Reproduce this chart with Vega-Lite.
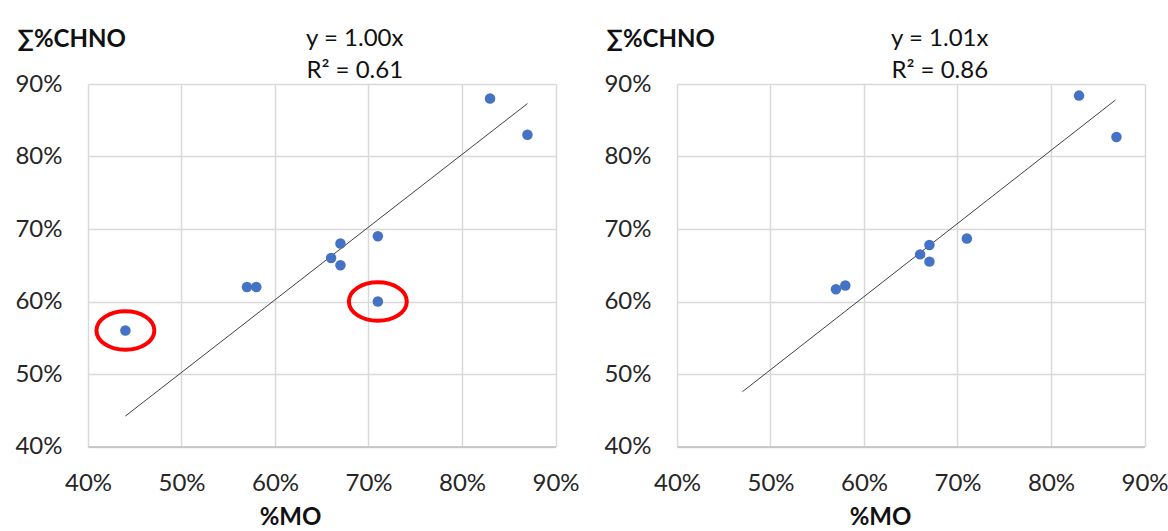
{
  "$schema": "https://vega.github.io/schema/vega-lite/v6.json",
  "background": "white",
  "padding": {"left": 14, "top": 27, "right": 0, "bottom": 0},
  "spacing": 121,
  "bounds": "flush",
  "config": {
    "font": "Lato",
    "view": {"stroke": null},
    "axis": {
      "labelFont": "Lato",
      "labelFontSize": 24,
      "labelColor": "#262626",
      "labelFlush": false,
      "grid": true,
      "gridColor": "#d9d9d9",
      "gridWidth": 1.5,
      "ticks": false,
      "domain": false,
      "titleFont": "Lato",
      "titleFontSize": 24,
      "titleFontWeight": "bold",
      "titleColor": "#111111"
    }
  },
  "datasets": {
    "left": [
      {"mo": 0.44, "chno": 0.56, "outlier": true},
      {"mo": 0.57, "chno": 0.62, "outlier": false},
      {"mo": 0.58, "chno": 0.62, "outlier": false},
      {"mo": 0.66, "chno": 0.66, "outlier": false},
      {"mo": 0.67, "chno": 0.68, "outlier": false},
      {"mo": 0.67, "chno": 0.65, "outlier": false},
      {"mo": 0.71, "chno": 0.69, "outlier": false},
      {"mo": 0.71, "chno": 0.60, "outlier": true},
      {"mo": 0.83, "chno": 0.88, "outlier": false},
      {"mo": 0.87, "chno": 0.83, "outlier": false}
    ],
    "right": [
      {"mo": 0.57, "chno": 0.617},
      {"mo": 0.58, "chno": 0.622},
      {"mo": 0.66, "chno": 0.665},
      {"mo": 0.67, "chno": 0.678},
      {"mo": 0.67, "chno": 0.655},
      {"mo": 0.71, "chno": 0.687},
      {"mo": 0.83, "chno": 0.884},
      {"mo": 0.87, "chno": 0.827}
    ],
    "trendLeft": [
      {"mo": 0.44, "chno": 0.442},
      {"mo": 0.87, "chno": 0.873}
    ],
    "trendRight": [
      {"mo": 0.47, "chno": 0.4756},
      {"mo": 0.869, "chno": 0.878}
    ]
  },
  "hconcat": [
    {
      "width": 467.5,
      "height": 362.5,
      "title": {
        "text": "y = 1.00x",
        "subtitle": "R² = 0.61",
        "anchor": "middle",
        "dx": 33,
        "font": "Lato",
        "fontSize": 24,
        "fontWeight": "normal",
        "color": "#111111",
        "subtitleFont": "Lato",
        "subtitleFontSize": 24,
        "subtitleColor": "#111111",
        "offset": -56,
        "subtitlePadding": 8
      },
      "encoding": {
        "x": {
          "field": "mo", "type": "quantitative",
          "scale": {"domain": [0.4, 0.9], "nice": false, "zero": false},
          "axis": {
            "values": [0.4, 0.5, 0.6, 0.7, 0.8, 0.9], "format": ".0%",
            "title": "%MO", "labelPadding": 25,
            "titleX": 202, "titleY": 78, "titleAlign": "center", "titleBaseline": "alphabetic",
            "domain": true, "domainColor": "#bfbfbf", "domainWidth": 1.5
          }
        },
        "y": {
          "field": "chno", "type": "quantitative",
          "scale": {"domain": [0.4, 0.9], "nice": false, "zero": false},
          "axis": {
            "values": [0.4, 0.5, 0.6, 0.7, 0.8, 0.9], "format": ".0%",
            "title": "∑%CHNO", "titleAngle": 0, "titleAlign": "left", "titleBaseline": "alphabetic",
            "titleX": -71, "titleY": -38, "labelPadding": 26
          }
        }
      },
      "layer": [
        {"data": {"name": "trendLeft"}, "mark": {"type": "line", "color": "#404040", "strokeWidth": 1}},
        {"data": {"name": "left"}, "mark": {"type": "point", "filled": true, "color": "#4472C4", "size": 110, "opacity": 1}},
        {
          "data": {"name": "left"},
          "transform": [{"filter": "datum.outlier"}],
          "mark": {
            "type": "point",
            "shape": "M1.5,0 C1.5,0.5523 0.8284,1 0,1 C-0.8284,1 -1.5,0.5523 -1.5,0 C-1.5,-0.5523 -0.8284,-1 0,-1 C0.8284,-1 1.5,-0.5523 1.5,0 Z",
            "filled": false, "stroke": "#ff0000", "strokeWidth": 4, "size": 1490, "opacity": 1
          }
        }
      ]
    },
    {
      "width": 467.5,
      "height": 362.5,
      "title": {
        "text": "y = 1.01x",
        "subtitle": "R² = 0.86",
        "anchor": "middle",
        "dx": 29,
        "font": "Lato",
        "fontSize": 24,
        "fontWeight": "normal",
        "color": "#111111",
        "subtitleFont": "Lato",
        "subtitleFontSize": 24,
        "subtitleColor": "#111111",
        "offset": -56,
        "subtitlePadding": 8
      },
      "encoding": {
        "x": {
          "field": "mo", "type": "quantitative",
          "scale": {"domain": [0.4, 0.9], "nice": false, "zero": false},
          "axis": {
            "values": [0.4, 0.5, 0.6, 0.7, 0.8, 0.9], "format": ".0%",
            "title": "%MO", "labelPadding": 25,
            "titleX": 203, "titleY": 78, "titleAlign": "center", "titleBaseline": "alphabetic",
            "domain": true, "domainColor": "#bfbfbf", "domainWidth": 1.5
          }
        },
        "y": {
          "field": "chno", "type": "quantitative",
          "scale": {"domain": [0.4, 0.9], "nice": false, "zero": false},
          "axis": {
            "values": [0.4, 0.5, 0.6, 0.7, 0.8, 0.9], "format": ".0%",
            "title": "∑%CHNO", "titleAngle": 0, "titleAlign": "left", "titleBaseline": "alphabetic",
            "titleX": -71, "titleY": -38, "labelPadding": 26
          }
        }
      },
      "layer": [
        {"data": {"name": "trendRight"}, "mark": {"type": "line", "color": "#404040", "strokeWidth": 1}},
        {"data": {"name": "right"}, "mark": {"type": "point", "filled": true, "color": "#4472C4", "size": 110, "opacity": 1}}
      ]
    }
  ]
}
